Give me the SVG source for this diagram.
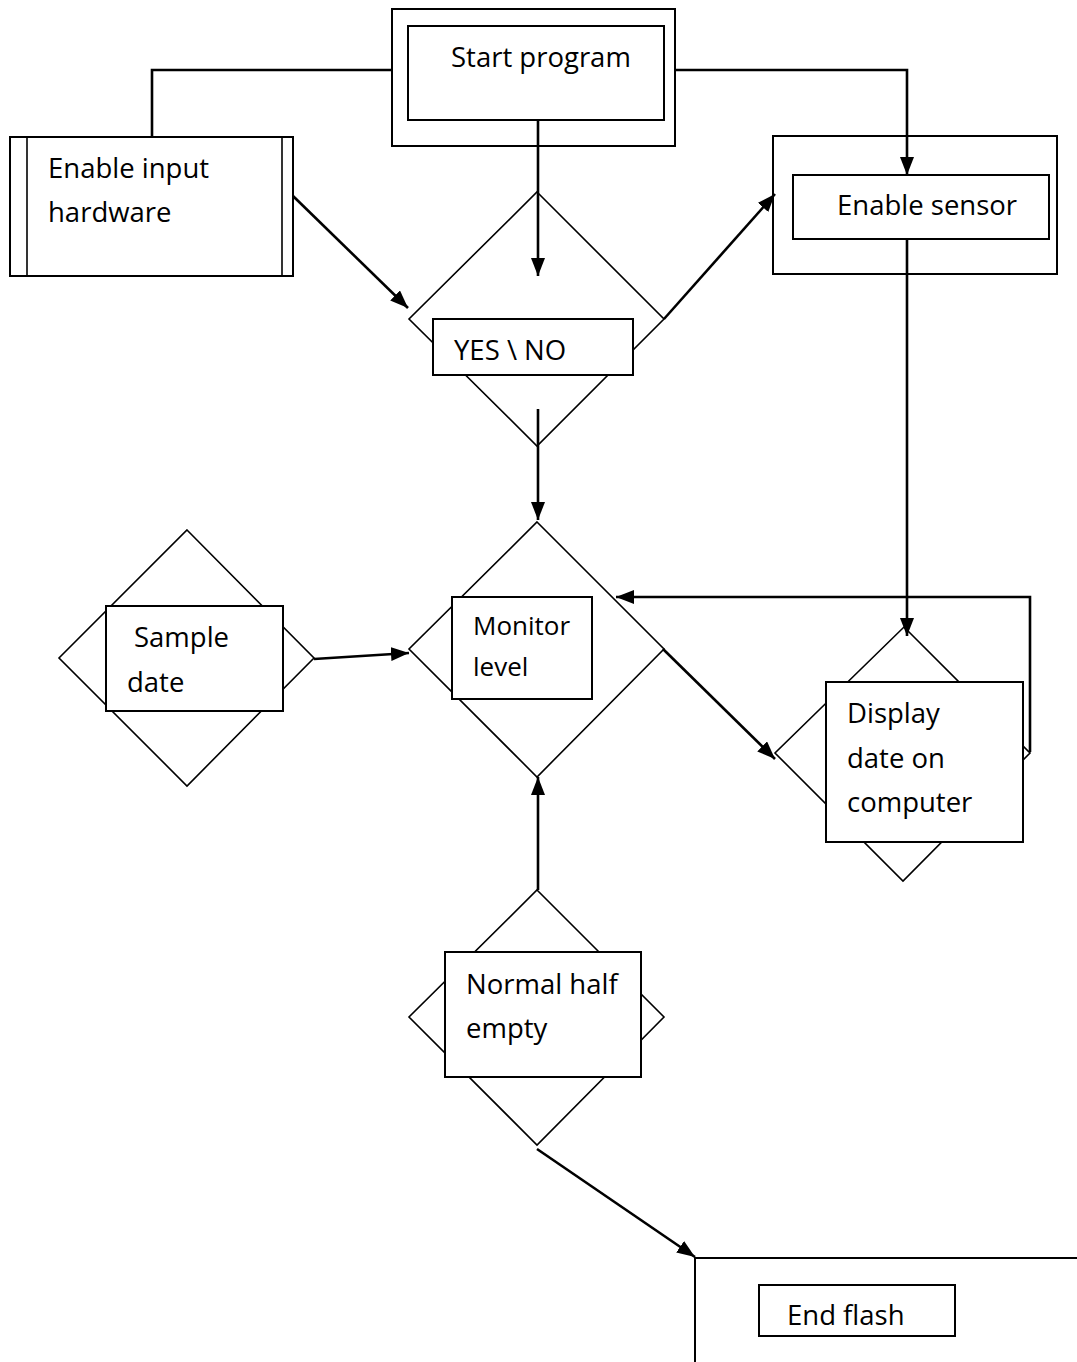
<svg xmlns="http://www.w3.org/2000/svg" width="1077" height="1362" viewBox="0 0 1077 1362">
<defs>
<marker id="ah" markerUnits="userSpaceOnUse" markerWidth="20" markerHeight="16" refX="18" refY="7" orient="auto">
<path d="M0,0 L18,7 L0,14 z" fill="#000"/>
</marker>
</defs>
<style>
.box{fill:#fff;stroke:#000;stroke-width:2}
.dia{fill:#fff;stroke:#000;stroke-width:1.6}
.ln{fill:none;stroke:#000;stroke-width:1.6}
.c{fill:none;stroke:#000;stroke-width:2.6}
.ca{fill:none;stroke:#000;stroke-width:2.6;marker-end:url(#ah)}
text{font-family:"Open Sans","Liberation Sans",sans-serif;font-size:27.5px;fill:#000}
.sm{font-size:26px}
</style>
<rect width="1077" height="1362" fill="#fff"/>

<g id="start">
<rect class="box" x="392" y="9" width="283" height="137"/>
<rect class="box" x="408" y="26" width="256" height="94"/>
<text x="451" y="67">Start program</text>
</g>

<g id="enable-input">
<rect class="box" x="10" y="137" width="283" height="139"/>
<line class="ln" x1="27" y1="137" x2="27" y2="276"/>
<line class="ln" x1="282" y1="137" x2="282" y2="276"/>
<text x="48" y="178">Enable input</text>
<text x="48" y="222">hardware</text>
</g>

<g id="enable-sensor">
<rect class="box" x="773" y="136" width="284" height="138"/>
<rect class="box" x="793" y="175" width="256" height="64"/>
<text x="837" y="215">Enable sensor</text>
</g>

<g id="yes-no">
<polygon class="dia" points="537,192 664,319 537,446 409,319"/>
<rect class="box" x="433" y="319" width="200" height="56"/>
<text x="454" y="360">YES \ NO</text>
</g>

<g id="sample-date">
<polygon class="dia" points="187,530 314,658 187,786 59,658"/>
<rect class="box" x="106" y="606" width="177" height="105"/>
<text x="134" y="647">Sample</text>
<text x="127" y="692">date</text>
</g>

<g id="monitor-level">
<polygon class="dia" points="537,522 664,649 537,777 409,649"/>
<rect class="box" x="452" y="597" width="140" height="102"/>
<text class="sm" x="473" y="635">Monitor</text>
<text class="sm" x="473" y="676">level</text>
</g>

<g id="display-date">
<polygon class="dia" points="904,627 1030,753 903,881 775,753"/>
<rect class="box" x="826" y="682" width="197" height="160"/>
<text x="847" y="723">Display</text>
<text x="847" y="768">date on</text>
<text x="847" y="812">computer</text>
</g>

<g id="normal-half-empty">
<polygon class="dia" points="537,890 664,1017 537,1145 409,1017"/>
<rect class="box" x="445" y="952" width="196" height="125"/>
<text x="466" y="994">Normal half</text>
<text x="466" y="1038">empty</text>
</g>

<g id="end-flash">
<polyline class="ln" points="695,1362 695,1258 1077,1258" style="stroke-width:2"/>
<rect class="box" x="759" y="1285" width="196" height="51"/>
<text x="787" y="1325">End flash</text>
</g>

<g id="connectors">
<polyline class="c" points="392,70 152,70 152,137"/>
<polyline class="ca" points="675,70 907,70 907,175"/>
<line class="ca" x1="538" y1="120" x2="538" y2="276"/>
<line class="ca" x1="293" y1="196" x2="408" y2="308"/>
<line class="ca" x1="664" y1="319" x2="775" y2="194"/>
<line class="ca" x1="538" y1="409" x2="538" y2="520"/>
<line class="ca" x1="907" y1="239" x2="907" y2="636"/>
<line class="ca" x1="314" y1="659" x2="409" y2="653"/>
<polyline class="ca" points="1030,752 1030,597 616,597"/>
<line class="ca" x1="663" y1="649" x2="775" y2="759"/>
<line class="ca" x1="538" y1="890" x2="538" y2="777"/>
<line class="ca" x1="537" y1="1149" x2="695" y2="1257"/>
</g>
</svg>
